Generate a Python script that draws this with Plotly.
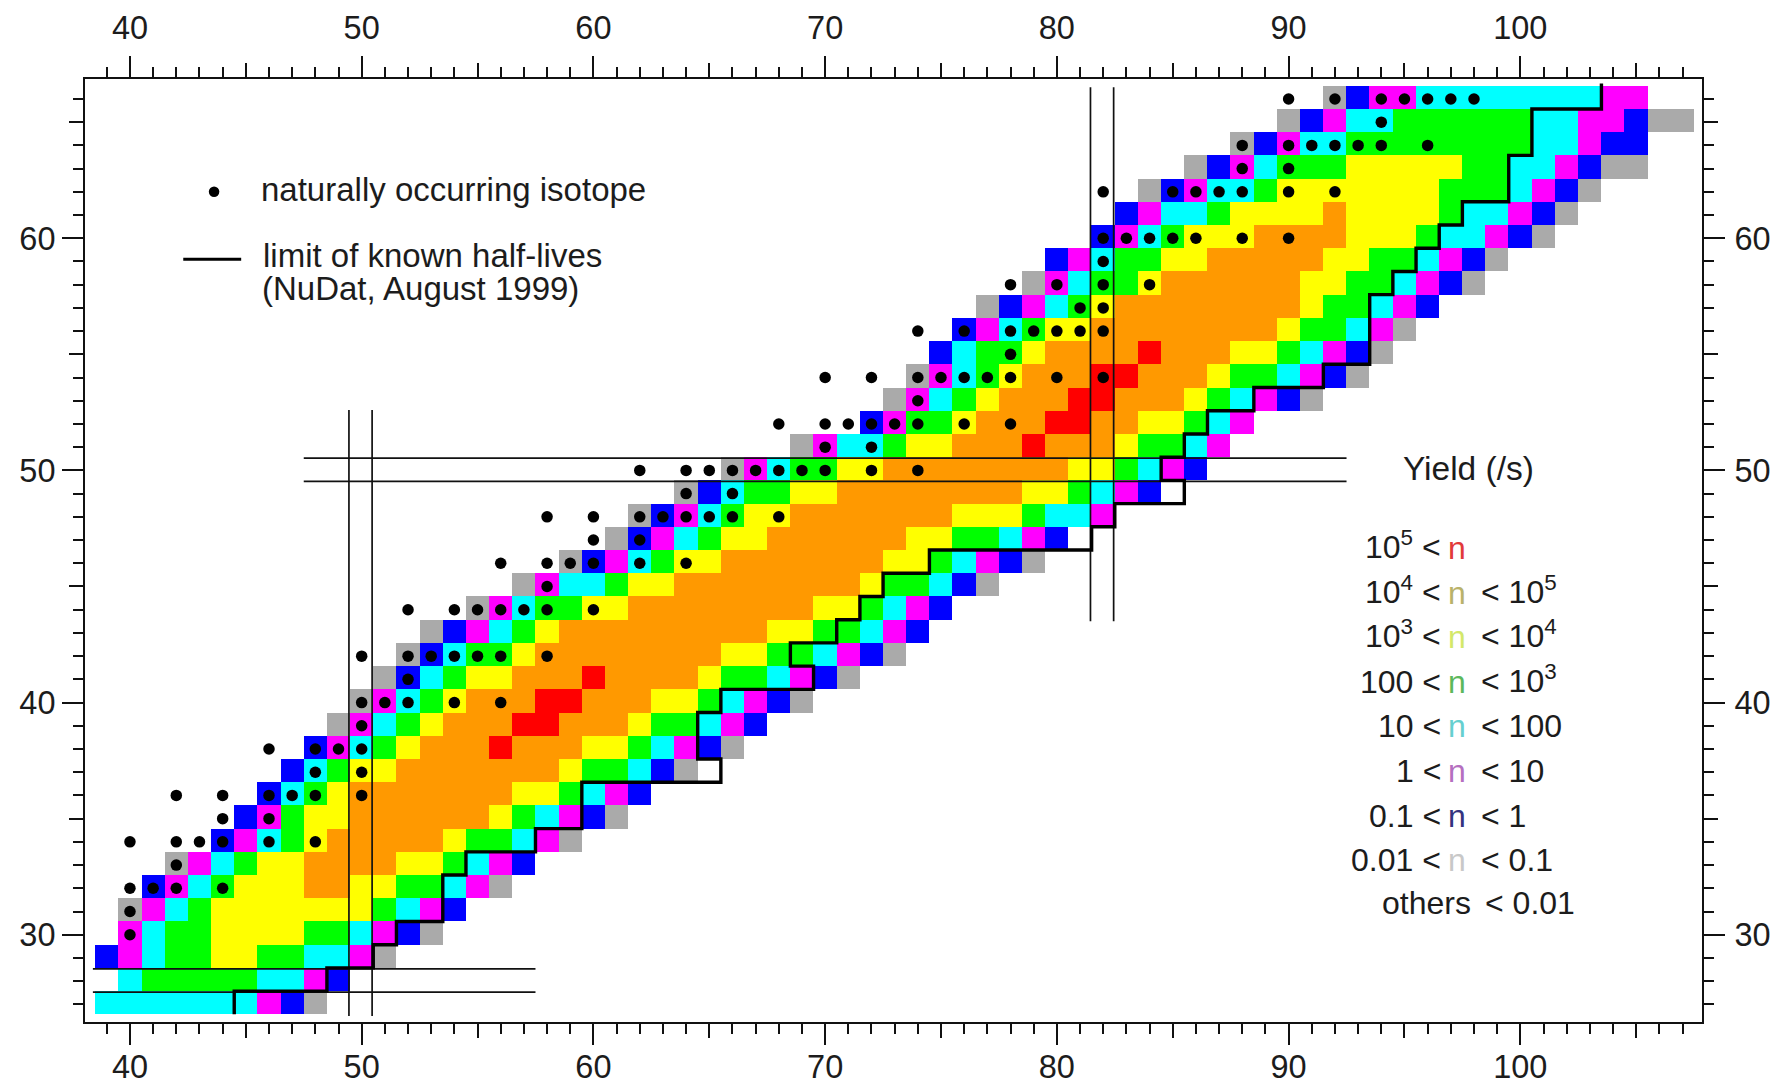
import plotly.graph_objects as go

# ---- Data -----------------------------------------------------------------
row_Z = list(range(27, 67))
row_first_N = [39, 40, 39, 40, 40, 41, 42, 44, 45, 46, 47, 48, 49, 50, 51, 52, 53, 55, 57, 59,
               61, 62, 64, 66, 69, 72, 73, 74, 75, 76, 77, 79, 80, 82, 83, 84, 86, 88, 90, 92]
row_codes = [
    "cccccccmbg", "cGGGGGccmb", "bmcGGyyGGccmg", "mcGGyyyyGGcmbg", "gmcGyyyyyyyGcmb",
    "bmcGyyyooyyGGcmg", "gmcGyyooooyyGcmb", "bmcGyoooooyGGcmg", "bmGyyooooooyGcmbg",
    "bcGyoooooooyyGcmb", "bcGyyoooooooyGGcbg", "bmcGyoooroooyyGcmbg",
    "gmcGyooorroooyGGcmb", "gmcGyooorroooyyGcmbg", "gbcGyyooorooooyGGcmbg",
    "gbcGGyooooooooyyGGcmbg", "gbmcGyoooooooooyyGGcmb", "gmcGGyyooooooooyyGcmb",
    "gmccGyyooooooooyGGcbg", "gbmcGyyoooooooyyGcmbg", "gbmcGyyooooooyyGGcmb",
    "gbmcGyyoooooooyyyGccm", "gbcGGyyooooooooyyGcmb", "gmcGGyyooooooooyyGcmb",
    "gmccGyyoooroooyGGcm", "bmGGyooorrooyyGcm", "gmcGyooorroooyGcmbg", "gmcGyooorroooyGGcmbg",
    "bcGGyooooroooyyGcmbg", "bmcGyyooooooooyGGcmg", "gbmcGyooooooooyGGcmb",
    "gmcGGyooooooyyGGcmbg", "bmcGGyyoooooyyGGcmbg", "bmcGyyyooooyyyGccmbg",
    "bmccGyyyyoyyyyGccmbg", "gbmccGyyyyyyyGGGcmbg", "gbmcGGGyyyyyGGccmbgg",
    "gbmccGGGGGGGGccmbb", "gbmccGGGGGGccmmbgg", "gbmmccccccccmm",
]
# level order: lowest yield -> highest yield
level_codes = "gbmcGyor"
level_colors = ["#aaaaaa", "#0000ff", "#ff00ff", "#00ffff", "#00ff00", "#ffff00", "#ff9900", "#ff0000"]

isotope_Z = [30, 31, 32, 33, 34, 35, 36, 37, 38, 39, 40, 41, 42, 44, 45, 46, 47, 48, 49, 50, 51,
             52, 53, 54, 55, 56, 57, 58, 59, 60, 62, 63, 64, 65, 66]
isotope_N = [
    [40], [40], [40, 41, 42, 44], [42], [40, 42, 43, 44, 46, 48], [44, 46],
    [42, 44, 46, 47, 48, 50], [48, 50], [46, 48, 49, 50], [50], [50, 51, 52, 54, 56], [52],
    [50, 52, 53, 54, 55, 56, 58], [52, 54, 55, 56, 57, 58, 60], [58],
    [56, 58, 59, 60, 62, 64], [60, 62], [58, 60, 62, 63, 64, 65, 66, 68], [64, 66],
    [62, 64, 65, 66, 67, 68, 69, 70, 72, 74], [70, 72], [68, 70, 71, 72, 73, 74, 76, 78], [74],
    [70, 72, 74, 75, 76, 77, 78, 80, 82], [78], [74, 76, 78, 79, 80, 81, 82], [81, 82],
    [78, 80, 82, 84], [82], [82, 83, 84, 85, 86, 88, 90], [82, 85, 86, 87, 88, 90, 92], [88, 90],
    [88, 90, 91, 92, 93, 94, 96], [94], [90, 92, 94, 95, 96, 97, 98],
]

limit_N = [44.5, 44.5, 48.5, 48.5, 50.5, 50.5, 51.5, 51.5, 53.5, 53.5, 54.5, 54.5, 57.5, 57.5,
           59.5, 59.5, 65.5, 65.5, 64.5, 64.5, 65.5, 65.5, 69.5, 69.5, 68.5, 68.5, 70.5, 70.5,
           71.5, 71.5, 72.5, 72.5, 74.5, 74.5, 81.5, 81.5, 82.5, 82.5, 85.5, 85.5, 84.5, 84.5,
           85.5, 85.5, 86.5, 86.5, 88.5, 88.5, 91.5, 91.5, 93.5, 93.5, 94.5, 94.5, 95.5, 95.5,
           96.5, 96.5, 97.5, 97.5, 99.5, 99.5, 100.5, 100.5, 103.5, 103.5]
limit_Z = [26.5, 27.5, 27.5, 28.5, 28.5, 29.5, 29.5, 30.5, 30.5, 32.5, 32.5, 33.5, 33.5, 34.5,
           34.5, 36.5, 36.5, 37.5, 37.5, 39.5, 39.5, 40.5, 40.5, 41.5, 41.5, 42.5, 42.5, 43.5,
           43.5, 44.5, 44.5, 45.5, 45.5, 46.5, 46.5, 47.5, 47.5, 48.5, 48.5, 49.5, 49.5, 50.5,
           50.5, 51.5, 51.5, 52.5, 52.5, 53.5, 53.5, 54.5, 54.5, 57.5, 57.5, 58.5, 58.5, 59.5,
           59.5, 60.5, 60.5, 61.5, 61.5, 63.5, 63.5, 65.5, 65.5, 66.6]

magic_h_Z = [27.5, 28.5, 49.5, 50.5]
magic_h_N = [(38.4, 57.5), (38.4, 57.5), (47.5, 92.5), (47.5, 92.5)]
magic_v_N = [49.5, 50.5, 81.5, 82.5]
magic_v_Z = [(26.5, 52.6), (26.5, 52.6), (43.5, 66.5), (43.5, 66.5)]

legend_left = ["10<sup>5</sup> <", "10<sup>4</sup> <", "10<sup>3</sup> <", "100 <", "10 <", "1 <", "0.1 <", "0.01 <"]
legend_right = ["", "< 10<sup>5</sup>", "< 10<sup>4</sup>", "< 10<sup>3</sup>", "< 100", "< 10", "< 1", "< 0.1"]
legend_n_colors = ["#e23a3a", "#b9b26a", "#d3e86a", "#5cb85c", "#66cfcf", "#b56fc0", "#33337f", "#c8c8c8"]

# ---- Frame geometry --------------------------------------------------------
W, H = 1773, 1082
L, R, T, B = 85, 1702, 79, 1022
X_RANGE = [38.06, 107.84]
Y_RANGE = [26.24, 66.86]
FONT = "Liberation Sans, Arial, sans-serif"
INK = "#1c1c1c"
FS = 32

grid_N = list(range(38, 109))
grid_Z = list(range(26, 68))
matrix = [[None] * len(grid_N) for _ in grid_Z]
for z, first, codes in zip(row_Z, row_first_N, row_codes):
    for i, code in enumerate(codes):
        matrix[z - grid_Z[0]][first + i - grid_N[0]] = level_codes.index(code)

n_levels = len(level_colors)
scale = []
for i, col in enumerate(level_colors):
    scale += [[i / n_levels, col], [(i + 1) / n_levels, col]]

fig = go.Figure()
fig.add_trace(go.Heatmap(x=grid_N, y=[z + 0.07 for z in grid_Z], z=matrix, zmin=0, zmax=n_levels,
                         colorscale=scale, showscale=False, hoverongaps=False))

for z, (a, b) in zip(magic_h_Z, magic_h_N):
    fig.add_trace(go.Scatter(x=[a, b], y=[z + 0.03, z + 0.03], mode="lines",
                             line=dict(color="#111", width=1.7), showlegend=False))
for n, (a, b) in zip(magic_v_N, magic_v_Z):
    fig.add_trace(go.Scatter(x=[n - 0.05, n - 0.05], y=[a, b], mode="lines",
                             line=dict(color="#111", width=1.7), showlegend=False))

fig.add_trace(go.Scatter(x=limit_N, y=[z + 0.07 for z in limit_Z], mode="lines",
                         line=dict(color="#000", width=3.4), showlegend=False))

dot_x, dot_y = [], []
for z, ns in zip(isotope_Z, isotope_N):
    for n in ns:
        dot_x.append(n)
        dot_y.append(z)
fig.add_trace(go.Scatter(x=dot_x, y=dot_y, mode="markers",
                         marker=dict(color="#000", size=11.5), showlegend=False))

# key marks
fig.add_trace(go.Scatter(x=[43.63], y=[62.0], mode="markers",
                         marker=dict(color="#000", size=10.5), showlegend=False))
fig.add_trace(go.Scatter(x=[42.3, 44.8], y=[59.1, 59.1], mode="lines",
                         line=dict(color="#000", width=3), showlegend=False))

# helper axes that carry the top/right labels and the medium ticks
for xa, ya in [("x2", "y2"), ("x3", "y3")]:
    fig.add_trace(go.Scatter(x=[60], y=[40], xaxis=xa, yaxis=ya, mode="markers",
                             marker=dict(opacity=0), hoverinfo="skip", showlegend=False))

fx = lambda px: (px - L) / (R - L)
fy = lambda py: 1 - (py - T) / (B - T)


def note(px, py, text, anchor="left", size=FS, color=INK):
    fig.add_annotation(xref="paper", yref="paper", x=fx(px), y=fy(py), text=text, showarrow=False,
                       xanchor=anchor, yanchor="middle",
                       font=dict(family=FONT, size=size, color=color))


note(259, 189, "naturally occurring isotope", size=33)
note(261, 256, "limit of known half-lives", size=33)
note(260, 288, "(NuDat, August 1999)", size=33)
note(1468, 468, "Yield (/s)", "center", size=33.5)

ROW0, STEP = 548, 44.6
for i, (left, right, col) in enumerate(zip(legend_left, legend_right, legend_n_colors)):
    py = ROW0 + i * STEP
    note(1443, py - (3 if "sup" in left else 0), left, "right")
    note(1457, py, "n", "center", color=col)
    if right:
        note(1479, py - (3 if "sup" in right else 0), right, "left")
note(1473, 903, "others", "right")
note(1483, 903, "< 0.01", "left")

major = dict(ticks="outside", ticklen=21, tickwidth=1.8, tickcolor="#111", dtick=10, tick0=0,
             minor=dict(dtick=1, ticklen=10, tickwidth=1.5, tickcolor="#111", ticks="outside"),
             showgrid=False, zeroline=False, showline=True, linecolor="#111", linewidth=2,
             automargin=False, tickfont=dict(family=FONT, size=32.5, color=INK))
medium = dict(ticks="outside", ticklen=15, tickwidth=1.5, tickcolor="#111", dtick=5, tick0=0,
              showgrid=False, zeroline=False, showline=False, showticklabels=False,
              mirror="ticks", automargin=False)

fig.update_layout(
    width=W, height=H, autosize=False, paper_bgcolor="white", plot_bgcolor="white",
    margin=dict(l=L, r=W - R, t=T, b=H - B, pad=0), showlegend=False,
    xaxis=dict(range=X_RANGE, side="bottom", ticklabelstandoff=-6, **major),
    yaxis=dict(range=Y_RANGE, side="left", **major),
    xaxis2=dict(range=X_RANGE, side="top", overlaying="x", anchor="y", ticklabelstandoff=4, **major),
    yaxis2=dict(range=Y_RANGE, side="right", overlaying="y", anchor="x", ticklabelstandoff=3, **major),
    xaxis3=dict(range=X_RANGE, side="bottom", overlaying="x", anchor="y", **medium),
    yaxis3=dict(range=Y_RANGE, side="left", overlaying="y", anchor="x", **medium),
)

fig.write_html("out.html", config=dict(displayModeBar=False),
               post_script="document.body.style.margin='0';")
